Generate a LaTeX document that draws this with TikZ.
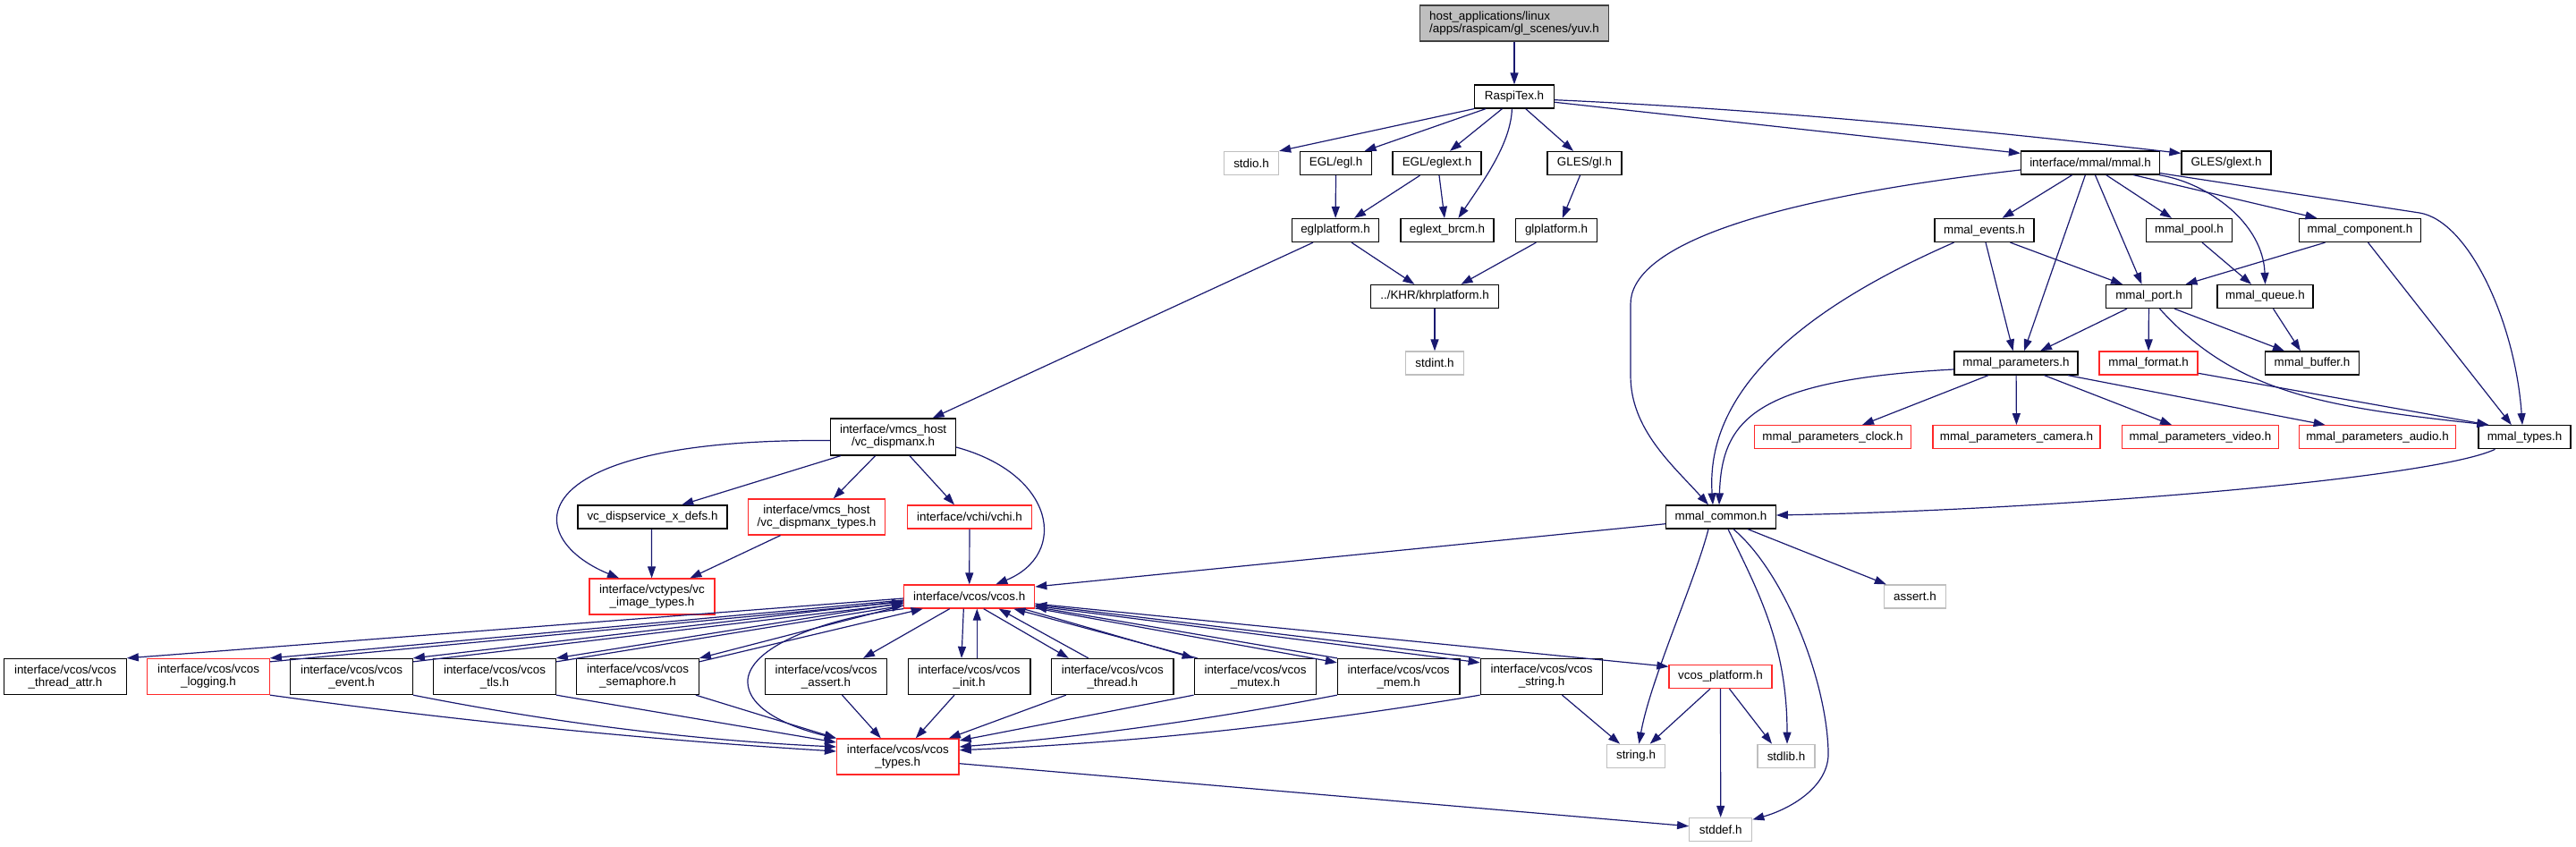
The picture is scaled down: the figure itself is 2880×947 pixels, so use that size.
\documentclass[tikz,border=0pt]{standalone}
\usepackage{fontspec}
\setmainfont{Liberation Sans}
\usetikzlibrary{arrows.meta}
\definecolor{edgec}{RGB}{25,25,112}
\definecolor{redc}{RGB}{255,40,40}
\definecolor{grayc}{RGB}{191,191,191}
\definecolor{topfill}{RGB}{191,191,191}
\definecolor{topdraw}{RGB}{64,64,64}
\tikzset{
  nb/.style={draw=black, line width=1.3pt, minimum height=26pt, inner sep=0pt, align=center, fill=white,
             font=\fontsize{13.4}{14}\selectfont},
  nr/.style={nb, draw=redc},
  ng/.style={nb, draw=grayc},
  vb/.style={nb, minimum width=136.5pt, minimum height=40pt},
  vr/.style={vb, draw=redc},
  edg/.style={draw=edgec, line width=1.2pt, -{Triangle[length=13pt,width=9pt]}},
}
\begin{document}
\begin{tikzpicture}[x=1pt,y=-1pt]
\useasboundingbox (0,0) rectangle (2880,947);
% ---------------- nodes ----------------
\node[nb, fill=topfill, draw=topdraw, minimum width=211pt, minimum height=40pt, align=left] (top) at (1693,26) {host\_applications/linux\\/apps/raspicam/gl\_scenes/yuv.h};
\node[nb, minimum width=89pt] (rt) at (1693,108) {RaspiTex.h};
\node[ng, minimum width=61pt] (stdio) at (1399,182.5) {stdio.h};
\node[nb, minimum width=80pt] (egl) at (1493.6,182.5) {EGL/egl.h};
\node[nb, minimum width=99pt] (eglext) at (1606.5,182.5) {EGL/eglext.h};
\node[nb, minimum width=83pt] (gl) at (1771.5,182.5) {GLES/gl.h};
\node[nb, minimum width=155pt] (mmal) at (2337,182) {interface/mmal/mmal.h};
\node[nb, minimum width=100pt] (glext) at (2489,182) {GLES/glext.h};
\node[nb, minimum width=97pt] (eglplat) at (1493,257.5) {eglplatform.h};
\node[nb, minimum width=104pt] (brcm) at (1618,257.5) {eglext\_brcm.h};
\node[nb, minimum width=91pt] (glplat) at (1740,257.5) {glplatform.h};
\node[nb, minimum width=111pt] (events) at (2218.5,257.5) {mmal\_events.h};
\node[nb, minimum width=96pt] (pool) at (2447.5,257.5) {mmal\_pool.h};
\node[nb, minimum width=136.5pt] (comp) at (2638.5,257.5) {mmal\_component.h};
\node[nb, minimum width=143pt] (khr) at (1604,331.5) {../KHR/khrplatform.h};
\node[nb, minimum width=95.5pt] (port) at (2402.5,331.5) {mmal\_port.h};
\node[nb, minimum width=107pt] (queue) at (2532.5,331.5) {mmal\_queue.h};
\node[ng, minimum width=65pt] (stdint) at (1604,406) {stdint.h};
\node[nb, minimum width=138pt] (params) at (2254,406) {mmal\_parameters.h};
\node[nr, minimum width=110pt] (format) at (2402,406) {mmal\_format.h};
\node[nb, minimum width=105pt] (buffer) at (2585,406) {mmal\_buffer.h};
\node[nb, minimum width=139.6pt, minimum height=41pt] (dispmanx) at (998.6,488.5) {interface/vmcs\_host\\/vc\_dispmanx.h};
\node[nr, minimum width=174.5pt] (clock) at (2049,488.7) {mmal\_parameters\_clock.h};
\node[nr, minimum width=187pt] (camera) at (2254.5,488.7) {mmal\_parameters\_camera.h};
\node[nr, minimum width=175pt] (video) at (2460,488.7) {mmal\_parameters\_video.h};
\node[nr, minimum width=175pt] (audio) at (2658,488.7) {mmal\_parameters\_audio.h};
\node[nb, minimum width=103pt] (types) at (2822.5,488.7) {mmal\_types.h};
\node[nb, minimum width=167pt] (dispsvc) at (729.5,578) {vc\_dispservice\_x\_defs.h};
\node[nr, minimum width=153pt, minimum height=40pt] (dmtypes) at (913,578) {interface/vmcs\_host\\/vc\_dispmanx\_types.h};
\node[nr, minimum width=139pt] (vchi) at (1084,578) {interface/vchi/vchi.h};
\node[nb, minimum width=122.5pt] (common) at (1924,578) {mmal\_common.h};
\node[nr, minimum width=140pt, minimum height=40pt] (imgtypes) at (729,667) {interface/vctypes/vc\\\_image\_types.h};
\node[nr, minimum width=146pt] (vcos) at (1083.7,667) {interface/vcos/vcos.h};
\node[ng, minimum width=69pt] (assert) at (2141,667) {assert.h};
\node[vb] (tattr) at (73,756.5) {interface/vcos/vcos\\\_thread\_attr.h};
\node[vr] (logging) at (233,756.5) {interface/vcos/vcos\\\_logging.h};
\node[vb] (event) at (393,756.5) {interface/vcos/vcos\\\_event.h};
\node[vb] (tls) at (553,756.5) {interface/vcos/vcos\\\_tls.h};
\node[vb] (sem) at (713,756.5) {interface/vcos/vcos\\\_semaphore.h};
\node[vb] (vassert) at (923.5,756.5) {interface/vcos/vcos\\\_assert.h};
\node[vb] (init) at (1083.6,756.5) {interface/vcos/vcos\\\_init.h};
\node[vb] (thread) at (1243.8,756.5) {interface/vcos/vcos\\\_thread.h};
\node[vb] (mutex) at (1403.5,756.5) {interface/vcos/vcos\\\_mutex.h};
\node[vb] (mem) at (1563.7,756.5) {interface/vcos/vcos\\\_mem.h};
\node[vb] (vstring) at (1723.5,756.5) {interface/vcos/vcos\\\_string.h};
\node[nr, minimum width=115pt] (platform) at (1923.5,756.5) {vcos\_platform.h};
\node[vr] (vtypes) at (1003.8,846) {interface/vcos/vcos\\\_types.h};
\node[ng, minimum width=65.5pt] (string) at (1829,845.3) {string.h};
\node[ng, minimum width=64pt] (stdlib) at (1997,845.3) {stdlib.h};
\node[ng, minimum width=70pt] (stddef) at (1923.7,927.5) {stddef.h};
% ---------------- edges ----------------
\draw[edg] (top) -- (rt);
\draw[edg] (rt.south west) -- (stdio.north east);
\draw[edg] ([xshift=-32pt]rt.south) -- ([xshift=32pt]egl.north);
\draw[edg] ([xshift=-13.6pt]rt.south) -- ([xshift=14.5pt]eglext.north);
\draw[edg] ([xshift=-2.6pt]rt.south) .. controls (1689,160) and (1660,200) .. ([xshift=12.4pt]brcm.north);
\draw[edg] ([xshift=12.7pt]rt.south) -- ([xshift=-12.5pt]gl.north);
\draw[edg] ([yshift=-6.3pt]rt.east) -- ([yshift=-3pt]mmal.north west);
\draw[edg] ([yshift=-3.7pt]rt.east) .. controls (1970,122) and (2210,145) .. ([yshift=-3pt]glext.north west);
\draw[edg] (egl) -- (eglplat);
\draw[edg] ([xshift=-19pt]eglext.south) -- ([xshift=21pt]eglplat.north);
\draw[edg] ([xshift=2.5pt]eglext.south) -- ([xshift=-3pt]brcm.north);
\draw[edg] ([xshift=-5pt]gl.south) -- ([xshift=6.8pt]glplat.north);
\draw[edg] ([xshift=-25pt]eglplat.south) -- ([xshift=44pt]dispmanx.north);
\draw[edg] ([xshift=18pt]eglplat.south) -- ([xshift=-22.6pt]khr.north);
\draw[edg] ([xshift=-22.6pt]glplat.south) -- ([xshift=29.5pt]khr.north);
\draw[edg] (khr) -- (stdint);
% vc_dispmanx
\draw[edg] ([yshift=-4pt]dispmanx.west) .. controls (580,490) and (580,600) .. ([xshift=-37pt]imgtypes.north);
\draw[edg] ([xshift=-58.8pt]dispmanx.south) -- ([xshift=32.8pt]dispsvc.north);
\draw[edg] ([xshift=-20pt]dispmanx.south) -- ([xshift=18.8pt]dmtypes.north);
\draw[edg] ([xshift=18.4pt]dispmanx.south) -- ([xshift=-17pt]vchi.north);
\draw[edg] ([yshift=-11.5pt]dispmanx.east) .. controls (1180,530) and (1195,620) .. ([xshift=29.6pt]vcos.north);
\draw[edg] ([xshift=-1pt]dispsvc.south) -- ([xshift=-0.4pt]imgtypes.north);
\draw[edg] ([xshift=-40.5pt]dmtypes.south) -- ([xshift=42.4pt]imgtypes.north);
\draw[edg] (vchi) -- (vcos);
\draw[edg] ([yshift=-7.7pt]common.west) -- ([yshift=11pt]vcos.east);
% mmal
\draw[edg] ([yshift=-8pt]mmal.west) .. controls (1950,225) and (1823,280) .. (1823,340) -- (1823,420) .. controls (1823,480) and (1870,520) .. ([xshift=-14pt]common.north);
\draw[edg] ([xshift=-34pt]events.south) .. controls (2050,330) and (1905,420) .. ([xshift=-9pt]common.north);
\draw[edg] ([yshift=-7pt]params.west) .. controls (1960,425) and (1925,470) .. ([xshift=-2pt]common.north);
\draw[edg] ([xshift=-33pt]types.south) .. controls (2720,535) and (2300,570) .. ([yshift=2pt]common.east);
\draw[edg] ([xshift=-20.3pt]mmal.south) -- ([xshift=20pt]events.north);
\draw[edg] ([xshift=-5.6pt]mmal.south) -- ([xshift=9pt]params.north);
\draw[edg] ([xshift=5.4pt]mmal.south) -- ([xshift=-8pt]port.north);
\draw[edg] ([xshift=17.7pt]mmal.south) -- ([xshift=-19.5pt]pool.north);
\draw[edg] ([xshift=-1pt]mmal.south east) .. controls (2470,205) and (2530,250) .. (queue.north);
\draw[edg] ([xshift=48.3pt]mmal.south) -- ([xshift=-48pt]comp.north);
\draw[edg] ([yshift=2pt]mmal.south east) -- (2705,238) .. controls (2760,247) and (2812,360) .. ([xshift=-2.5pt]types.north);
\draw[edg] ([xshift=1.5pt]events.south) -- ([xshift=-3.4pt]params.north);
\draw[edg] ([xshift=29pt]events.south) -- ([xshift=-29.5pt]port.north);
\draw[edg] ([xshift=14.5pt]pool.south) -- ([xshift=-15.5pt]queue.north);
\draw[edg] ([xshift=-39pt]comp.south) -- ([xshift=41pt]port.north);
\draw[edg] ([xshift=9pt]comp.south) -- ([xshift=-14.7pt]types.north);
\draw[edg] ([xshift=-24.5pt]port.south) -- ([xshift=27pt]params.north);
\draw[edg] (port) -- (format);
\draw[edg] ([xshift=28.5pt]port.south) -- ([xshift=-31pt]buffer.north);
\draw[edg] ([xshift=12pt]port.south) .. controls (2500,440) and (2600,455) .. ([xshift=12pt]types.north west);
\draw[edg] ([xshift=9pt]queue.south) -- ([xshift=-13pt]buffer.north);
\draw[edg] ([xshift=-31pt]params.south) -- ([xshift=33pt]clock.north);
\draw[edg] (params) -- (camera);
\draw[edg] ([xshift=31.5pt]params.south) -- ([xshift=-32pt]video.north);
\draw[edg] ([xshift=58pt]params.south) -- ([xshift=-58.4pt]audio.north);
\draw[edg] ([yshift=-11.3pt]format.east) -- ([xshift=12pt]types.north west);
% mmal_common
\draw[edg] ([xshift=-14pt]common.south) .. controls (1895,650) and (1845,760) .. ([xshift=3.4pt]string.north);
\draw[edg] ([xshift=8pt]common.south) .. controls (1965,660) and (1998,720) .. ([xshift=1pt]stdlib.north);
\draw[edg] ([xshift=14pt]common.south) .. controls (1995,640) and (2042,760) .. (2044,840) .. controls (2046,880) and (2000,905) .. ([yshift=-2.5pt]stddef.north east);
\draw[edg] ([xshift=30pt]common.south) -- ([xshift=3pt]assert.north west);
% vcos.h left
\draw[edg] ([yshift=-2pt]vcos.west) -- (tattr.north east);
\draw[edg] ([yshift=-4pt]vcos.west) -- (logging.north east);
\draw[edg] ([yshift=-4pt]logging.north east) -- ([yshift=-6pt]vcos.west);
\draw[edg] ([yshift=-5pt]vcos.west) -- (event.north east);
\draw[edg] ([yshift=-4pt]event.north east) -- ([yshift=-8pt]vcos.west);
\draw[edg] ([yshift=-7pt]vcos.west) -- (tls.north east);
\draw[edg] ([yshift=-4pt]tls.north east) -- ([yshift=-10pt]vcos.west);
\draw[edg] ([yshift=-10pt]vcos.west) -- (sem.north east);
\draw[edg] ([yshift=-4pt]sem.north east) -- ([xshift=-52pt]vcos.south);
\draw[edg] (vcos.south west) .. controls (930,690) and (840,720) .. (836,760) .. controls (834,795) and (890,815) .. (vtypes.north west);
% vcos.h bottom / right
\draw[edg] ([xshift=-22pt]vcos.south) -- ([xshift=41.5pt]vassert.north);
\draw[edg] ([xshift=-6.4pt]vcos.south) -- ([xshift=-8.6pt]init.north);
\draw[edg] ([xshift=8.7pt]init.north) -- ([xshift=8.6pt]vcos.south);
\draw[edg] ([xshift=16pt]vcos.south) -- ([xshift=-49pt]thread.north);
\draw[edg] ([xshift=-27pt]thread.north) -- ([xshift=33pt]vcos.south);
\draw[edg] ([xshift=60pt]vcos.south) -- (mutex.north west);
\draw[edg] ([xshift=4pt]mutex.north west) -- ([xshift=49.6pt]vcos.south);
\draw[edg] ([yshift=-13pt]vcos.east) -- ([yshift=-5pt]mem.north west);
\draw[edg] (mem.north west) -- ([yshift=-11.5pt]vcos.east);
\draw[edg] ([yshift=-10.5pt]vcos.east) -- ([yshift=-5pt]vstring.north west);
\draw[edg] (vstring.north west) -- ([yshift=-9pt]vcos.east);
\draw[edg] ([yshift=-8pt]vcos.east) -- ([yshift=11.2pt]platform.west);
% into vcos_types
\draw[edg] (logging.south east) .. controls (504.7,805) and (715.7,826.5) .. ([yshift=6pt]vtypes.west);
\draw[edg] (event.south east) .. controls (619.5,808.3) and (777,827.8) .. ([yshift=11pt]vtypes.west);
\draw[edg] (tls.south east) -- ([yshift=16pt]vtypes.west);
\draw[edg] ([xshift=-4pt]sem.south east) -- (vtypes.north west);
\draw[edg] ([xshift=18pt]vassert.south) -- ([xshift=-19pt]vtypes.north);
\draw[edg] ([xshift=-16.6pt]init.south) -- ([xshift=20pt]vtypes.north);
\draw[edg] ([xshift=-52pt]thread.south) -- ([xshift=57pt]vtypes.north);
\draw[edg] (mutex.south west) -- ([yshift=18pt]vtypes.east);
\draw[edg] (mem.south west) .. controls (1354.2,804.3) and (1213.5,823.8) .. ([yshift=11pt]vtypes.east);
\draw[edg] (vstring.south west) .. controls (1460.9,809.8) and (1266.9,830.5) .. ([yshift=7.3pt]vtypes.east);
% system headers
\draw[edg] ([xshift=23pt]vstring.south) -- ([xshift=-18pt]string.north);
\draw[edg] ([xshift=-11.5pt]platform.south) -- ([xshift=15.7pt]string.north);
\draw[edg] ([xshift=10pt]platform.south) -- ([xshift=-16pt]stdlib.north);
\draw[edg] (platform) -- (stddef);
\draw[edg] ([yshift=-7.7pt]vtypes.east) -- ([yshift=3.8pt]stddef.west);
\end{tikzpicture}
\end{document}
